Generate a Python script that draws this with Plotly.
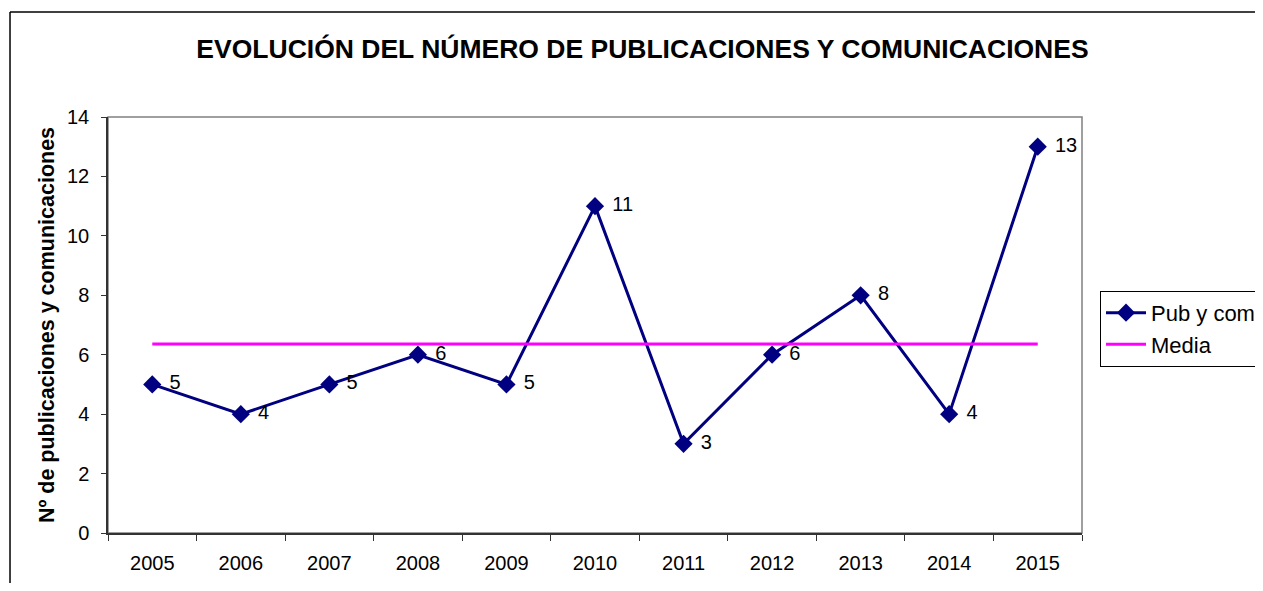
import plotly.graph_objects as go

years = ["2005", "2006", "2007", "2008", "2009", "2010", "2011", "2012", "2013", "2014", "2015"]
pub_com = [5, 4, 5, 6, 5, 11, 3, 6, 8, 4, 13]
media_value = sum(pub_com) / len(pub_com)
media = [media_value] * len(years)

title_text = "EVOLUCIÓN DEL NÚMERO DE PUBLICACIONES Y COMUNICACIONES"
y_title = "Nº de publicaciones y comunicaciones"

FONT = "Liberation Sans, Arial, sans-serif"

fig = go.Figure()
fig.add_trace(go.Scatter(
    x=years, y=pub_com, name="Pub y comunicaciones",
    mode="lines+markers",
    line=dict(color="#000080", width=3),
    marker=dict(symbol="diamond", size=14, color="#000080"),
    legendgroup="a", cliponaxis=False,
))
# data labels (invisible larger markers give the label offset)
fig.add_trace(go.Scatter(
    x=years, y=pub_com, mode="markers+text", showlegend=False,
    marker=dict(size=26, opacity=0),
    text=[str(v) for v in pub_com], textposition="middle right",
    textfont=dict(family=FONT, size=20, color="#000000"),
    cliponaxis=False, hoverinfo="skip",
))
fig.add_trace(go.Scatter(
    x=years, y=media, name="Media", mode="lines",
    line=dict(color="#FF00FF", width=3),
    legendgroup="b",
))

# chart outer border (left and top edges visible)
fig.add_shape(type="line", xref="paper", yref="paper",
              x0=-0.1006, x1=-0.1006, y0=-0.3, y1=1.2524,
              line=dict(color="#000000", width=1.5), layer="below")
fig.add_shape(type="line", xref="paper", yref="paper",
              x0=-0.1006, x1=1.4, y0=1.2524, y1=1.2524,
              line=dict(color="#000000", width=1.5), layer="below")
# plot area border
fig.add_shape(type="rect", xref="paper", yref="paper",
              x0=0, x1=1, y0=0, y1=1,
              line=dict(color="#808080", width=1.5), layer="below")

fig.update_layout(
    width=1255, height=575,
    margin=dict(l=100, r=181, t=109, b=50, autoexpand=False),
    paper_bgcolor="white", plot_bgcolor="white",
    font=dict(family=FONT, size=20, color="#000000"),
    title=dict(text=title_text, x=634.5 / 1255, xanchor="center", y=0.930, yanchor="middle",
               xref="container", yref="container",
               font=dict(family=FONT, size=26.5, color="#000000", weight="bold")),
    legend=dict(x=1.0185, xanchor="left", y=0.582, yanchor="top",
                bgcolor="white", bordercolor="#000000", borderwidth=1,
                font=dict(family=FONT, size=22), itemwidth=40,
                traceorder="grouped", tracegroupgap=0),
    showlegend=True,
)
fig.update_xaxes(
    type="category", range=[-0.5, 10.5], tickson="boundaries",
    ticks="outside", ticklen=6, tickcolor="#333333",
    showline=True, linecolor="#333333", linewidth=1.5,
    showgrid=False, zeroline=False, ticklabelstandoff=11,
    tickfont=dict(size=20),
)
fig.update_yaxes(
    range=[0, 14], dtick=2, ticks="outside", ticklen=5, tickcolor="#333333",
    showline=True, linecolor="#333333", linewidth=1.5,
    showgrid=False, zeroline=False, ticklabelstandoff=8,
    tickfont=dict(size=20),
    title=dict(text=y_title, standoff=6, font=dict(size=21.5, weight="bold")),
    automargin=False,
)

fig.write_html("out.html")
